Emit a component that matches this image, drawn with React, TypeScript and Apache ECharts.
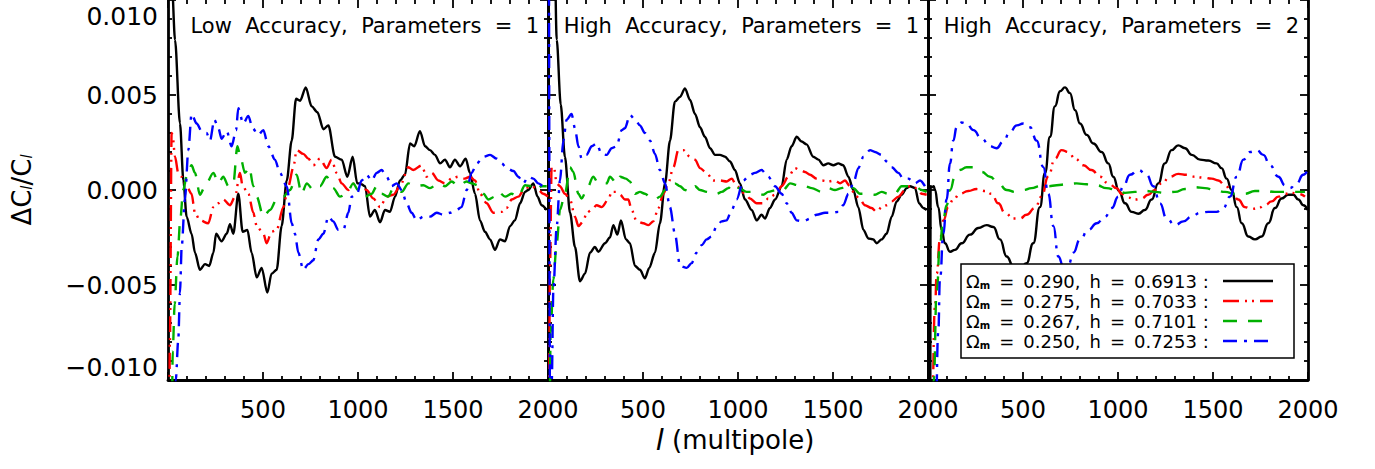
import React, { useEffect, useRef } from "react";
import * as echarts from "echarts";

// ---------- data (values in units of 1e-3) ----------
const UNIT = 1e-3;
const X_MIN = 0;
const X_MAX = 2000;
const X_STEP = 500;
const Y_MIN = -0.01;
const Y_MAX = 0.01;
const Y_STEP = 0.005;

const PANEL_TITLES = [
  "Low Accuracy, Parameters = 1",
  "High Accuracy, Parameters = 1",
  "High Accuracy, Parameters = 2",
];

const LEGEND_OM = ["0.290", "0.275", "0.267", "0.250"];
const LEGEND_H = ["0.6913", "0.7033", "0.7101", "0.7253"];

// Panel 1: Low accuracy, 1 parameter
const p1Black = [[2,40],[20,11],[37,7.9],[63,3.5],[81,0.5],[98,-1.4],[124,-2.3],[142,-3.3],[168,-4.2],[195,-3.9],[217,-4.0],[239,-3.3],[253,-2.3],[282,-2.7],[309,-2.3],[326,-1.8],[344,-2.3],[370,-0.2],[393,-2.2],[418,-2.1],[440,-3.3],[467,-4.6],[493,-4.1],[523,-5.4],[545,-4.4],[572,-4.2],[598,-1.9],[625,0.5],[651,2.6],[674,4.8],[695,4.7],[725,5.4],[756,4.4],[786,4.1],[818,3.2],[844,3.4],[879,1.75],[914,1.6],[944,0.7],[972,1.75],[996,0.35],[1010,0.35],[1037,0.2],[1063,-1.4],[1089,-1.05],[1116,-1.7],[1142,-1.05],[1168,-1.15],[1195,-0.35],[1221,0.5],[1247,0.8],[1274,2.45],[1296,2.3],[1326,3.1],[1353,2.3],[1379,2.1],[1405,1.85],[1432,1.4],[1458,1.6],[1484,1.2],[1510,1.6],[1537,1.25],[1567,1.65],[1589,0.9],[1616,-0.2],[1642,-1.6],[1668,-2.2],[1695,-2.6],[1721,-3.15],[1747,-2.6],[1774,-2.7],[1800,-1.9],[1826,-1.6],[1853,-0.7],[1879,-0.1],[1896,0],[1923,0.35],[1945,-0.35],[1966,-0.8],[1993,-1.05]];
const p1Red = [[2,-25],[10,-8],[19,3.0],[24,2.9],[37,1.75],[54,0.9],[72,0.7],[98,0.2],[124,-0.2],[142,-1.2],[168,-1.6],[212,-1.75],[239,-0.9],[265,-0.7],[291,-0.5],[326,-0.8],[353,-0.35],[379,0.9],[393,0.2],[423,-0.2],[449,-1.2],[467,-1.9],[502,-2.3],[519,-2.8],[545,-2.2],[572,-2.1],[607,-0.9],[633,0.2],[660,1.2],[677,2.1],[712,1.9],[739,1.65],[765,1.3],[800,1.65],[835,1.15],[861,1.6],[888,0.9],[914,0.35],[949,0],[984,0.35],[1010,0.35],[1045,0],[1081,-0.45],[1116,-0.9],[1151,-0.35],[1186,-0.25],[1221,0.2],[1265,1.2],[1291,1.05],[1335,1.3],[1361,0.7],[1388,0.9],[1423,0.5],[1458,0.35],[1493,0.6],[1528,0.7],[1563,0.6],[1589,0.7],[1616,0.5],[1642,-0.2],[1677,-0.7],[1712,-1.2],[1756,-1.15],[1782,-0.95],[1809,-0.5],[1844,-0.35],[1879,0.1],[1914,0.2],[1949,0],[1975,-0.2],[2000,-0.35]];
const p1Green = [[2,-25],[20,-12],[25,-8.5],[35,-6],[50,-3.5],[65,-1.5],[80,0],[100,0.8],[124,1.3],[142,0.9],[168,-0.25],[195,0.2],[239,0.9],[265,0.35],[291,0.7],[318,0.2],[344,0.35],[365,2.3],[379,1.85],[405,0.9],[428,1.2],[449,0.2],[467,-0.35],[502,-1.4],[537,-1.05],[572,-0.5],[607,-0.35],[642,0],[677,0.8],[703,-0.2],[730,0.35],[765,0],[800,0.2],[835,0.7],[870,0.1],[905,-0.35],[940,-0.2],[975,0.35],[1000,0],[1037,-0.35],[1072,-0.2],[1098,0.2],[1124,-0.2],[1159,-0.35],[1186,0.1],[1230,-0.1],[1265,0.35],[1300,0.2],[1344,0.25],[1379,0.1],[1423,0.35],[1458,0.2],[1493,0.45],[1528,0.2],[1572,0.45],[1598,0.35],[1633,0.25],[1660,-0.2],[1686,-0.5],[1721,-0.35],[1740,-0.1],[1774,-0.35],[1809,-0.2],[1844,-0.35],[1879,0.25],[1914,0.2],[1940,0],[1966,0.2],[1993,0.2]];
const p1Blue = [[2,-30],[30,-14],[41,-10],[54,-7.9],[63,-5.4],[72,-3],[89,-0.5],[107,2.1],[124,4.0],[151,3.5],[177,3.1],[203,3.0],[221,2.6],[244,3.7],[265,3.25],[282,2.7],[309,3.1],[335,2.3],[358,3.15],[370,4.3],[396,3.5],[423,3.9],[445,3.25],[475,2.9],[502,3.15],[528,2.3],[563,1.6],[589,0.9],[625,0.2],[651,-1.75],[668,-2.3],[686,-3.3],[712,-4.2],[739,-3.9],[765,-3.7],[791,-2.6],[818,-2.3],[844,-1.4],[870,-1.65],[896,-2.1],[923,-2.1],[949,-1.2],[967,-0.35],[993,-0.25],[1019,0.5],[1045,0.8],[1072,0.5],[1098,0.9],[1124,1.05],[1151,0.7],[1177,0.2],[1203,0.35],[1230,0],[1256,-0.7],[1282,-1.2],[1309,-1.6],[1344,-1.4],[1379,-1.4],[1414,-1.2],[1449,-1.3],[1484,-1.2],[1519,-1.05],[1545,-0.9],[1572,0],[1598,0.9],[1625,1.4],[1660,1.75],[1695,1.85],[1730,1.65],[1756,1.4],[1782,1.15],[1818,1.0],[1844,0.7],[1870,0.35],[1896,0.7],[1923,0.6],[1949,0.35],[1975,0.2],[1993,0.2]];

// Panel 2: High accuracy, 1 parameter
const p2Black = [[2,60],[25,20],[46,7.9],[67,4.5],[89,1.75],[116,-1.2],[142,-3],[168,-4.8],[195,-4.4],[221,-3.3],[247,-3],[265,-3.25],[300,-2.8],[326,-2.5],[344,-1.85],[365,-2.35],[384,-1.6],[410,-2.6],[431,-2.8],[458,-4.0],[484,-4.2],[510,-4.65],[533,-4.1],[563,-3.3],[589,-1.75],[616,0.35],[642,2.6],[668,4.65],[695,4.9],[721,5.35],[747,4.75],[774,4.0],[800,3.3],[826,2.8],[853,2.2],[879,1.85],[905,1.85],[932,1.75],[958,1.5],[984,1.05],[1010,0.35],[1037,-0.5],[1072,-1.05],[1098,-1.6],[1124,-1.3],[1142,-1.5],[1168,-0.95],[1195,-0.5],[1230,0.2],[1256,1.6],[1282,2.3],[1309,2.8],[1335,2.55],[1361,2.4],[1396,1.75],[1423,1.6],[1449,1.3],[1475,1.4],[1502,1.3],[1528,1.4],[1554,1.3],[1581,0.7],[1607,0],[1633,-0.9],[1660,-2.1],[1686,-2.55],[1712,-2.6],[1730,-2.8],[1756,-2.6],[1782,-2.3],[1809,-1.4],[1835,-0.6],[1861,-0.25],[1888,0.1],[1905,0.2],[1932,0.1],[1953,-0.7],[1975,-0.95],[1993,-1.05]];
const p2Red = [[2,-25],[10,-4.4],[19,1.2],[31,1.2],[46,0.35],[63,0.2],[89,-0.2],[116,-0.5],[142,-1.4],[160,-1.9],[186,-1.65],[203,-1.2],[230,-1.05],[256,-0.8],[282,-0.9],[318,-0.5],[335,-0.1],[358,-0.1],[379,-0.25],[405,-0.5],[423,-0.5],[440,-1.05],[467,-1.65],[502,-1.75],[528,-1.85],[554,-1.65],[581,-0.95],[607,-0.2],[633,0.35],[660,1.2],[686,2.1],[712,2.1],[747,1.75],[774,1.6],[800,1.15],[835,0.9],[870,0.5],[905,0.5],[940,0.45],[967,0.6],[993,0.2],[1037,-0.2],[1063,-0.45],[1098,-0.7],[1133,-0.7],[1159,-0.45],[1195,-0.25],[1230,0.2],[1265,0.7],[1300,1.15],[1326,1.05],[1353,0.95],[1379,0.8],[1414,0.6],[1440,0.5],[1475,0.45],[1510,0.5],[1537,0.35],[1563,0.5],[1589,0.2],[1616,-0.25],[1642,-0.5],[1668,-0.8],[1703,-0.95],[1730,-1.15],[1756,-0.9],[1782,-0.8],[1809,-0.6],[1844,-0.35],[1879,0],[1905,0.2],[1940,0.1],[1966,-0.2],[1993,-0.25]];
const p2Green = [[2,-25],[14,-7.5],[28,-4.7],[46,-2.8],[63,-1.05],[89,-0.2],[116,1.2],[133,0.95],[160,-0.2],[177,-0.45],[203,0],[238,0.7],[265,0.35],[309,0.35],[326,0.7],[361,0.35],[379,0.7],[410,0.6],[431,0.45],[458,-0.2],[484,-0.1],[510,-0.2],[537,-0.35],[563,-0.5],[589,-0.35],[616,0],[642,0.35],[668,0.35],[695,0.2],[721,0],[747,-0.1],[774,0.2],[800,0],[835,-0.1],[861,-0.2],[888,-0.2],[914,-0.1],[949,0.1],[975,0.35],[1005,0.1],[1045,-0.1],[1081,-0.1],[1133,-0.25],[1159,-0.1],[1203,0],[1238,0],[1274,0.35],[1317,0.25],[1353,0.2],[1388,0.1],[1440,-0.1],[1475,0.1],[1510,0],[1545,0.1],[1581,0.35],[1607,0.1],[1642,-0.2],[1686,-0.2],[1721,-0.25],[1756,-0.1],[1791,-0.2],[1826,-0.2],[1861,0.2],[1896,0.2],[1932,0.2],[1966,0],[1993,-0.1]];
const p2Blue = [[2,30],[12,-15],[20,-10],[28,-5.3],[46,-1.9],[63,0.5],[81,2.6],[98,3.7],[124,4.0],[142,3.25],[160,2.3],[177,1.65],[203,1.85],[230,2.3],[256,2.45],[282,1.9],[309,1.85],[335,2.2],[361,2.3],[388,3.15],[405,3.25],[431,3.95],[458,3.7],[484,3.4],[510,3.0],[537,2.6],[563,1.9],[589,1.05],[616,0.35],[642,-0.9],[668,-2.3],[695,-4.0],[730,-4.1],[756,-3.85],[782,-3.3],[809,-2.9],[835,-2.6],[861,-2.45],[888,-1.9],[914,-1.65],[940,-1.6],[967,-1.05],[993,-0.5],[1028,0.5],[1063,0.8],[1089,0.9],[1124,1.05],[1159,0.7],[1195,0.2],[1230,-0.2],[1256,-0.7],[1282,-1.2],[1309,-1.6],[1344,-1.65],[1379,-1.5],[1414,-1.3],[1458,-1.2],[1493,-1.2],[1528,-1.15],[1554,-0.8],[1581,-0.2],[1607,0.35],[1633,1.15],[1660,1.75],[1695,2.1],[1721,2.0],[1756,1.85],[1782,1.5],[1809,1.2],[1844,0.9],[1870,0.6],[1896,0.6],[1932,0.35],[1958,0.5],[1984,0.2]];

// Panel 3: High accuracy, 2 parameters
const p3Black = [[2,0.1],[5,-15],[11,-15],[14,0.2],[22,0.15],[30,0.2],[37,0],[54,-0.9],[72,-2.1],[89,-2.8],[116,-3.25],[142,-3.15],[177,-2.8],[221,-2.35],[265,-2.0],[309,-1.85],[344,-1.95],[379,-2.6],[414,-3.5],[449,-4.0],[484,-4.15],[519,-3.85],[554,-2.8],[589,-0.9],[616,0.9],[642,2.8],[668,4.4],[695,5.2],[721,5.4],[747,5.1],[774,4.2],[800,3.5],[835,2.9],[870,2.45],[914,2.0],[949,1.4],[975,0.7],[1005,-0.05],[1037,-0.7],[1072,-1.15],[1107,-1.25],[1142,-1.05],[1177,-0.5],[1212,0.35],[1247,1.4],[1282,2.1],[1317,2.35],[1353,2.2],[1388,1.85],[1432,1.6],[1475,1.55],[1519,1.4],[1545,1.15],[1572,0.6],[1598,0],[1625,-0.9],[1651,-1.75],[1686,-2.45],[1721,-2.6],[1756,-2.45],[1791,-1.75],[1826,-0.95],[1861,-0.45],[1896,-0.25],[1923,-0.25],[1949,-0.5],[1975,-0.8],[1998,-1.05]];
const p3Red = [[2,-25],[20,-12],[37,-6.1],[46,-4.4],[63,-2.6],[81,-1.6],[107,-0.9],[133,-0.5],[168,-0.2],[212,-0.05],[256,0.05],[300,-0.05],[335,-0.2],[370,-0.7],[405,-1.2],[449,-1.5],[484,-1.5],[519,-1.3],[563,-0.95],[598,-0.35],[633,0.7],[668,1.65],[703,2.1],[739,2.0],[774,1.65],[818,1.3],[861,1.05],[905,0.7],[949,0.35],[993,0.1],[1019,-0.2],[1054,-0.4],[1089,-0.5],[1124,-0.45],[1159,-0.25],[1195,0],[1230,0.35],[1274,0.7],[1317,0.85],[1361,0.8],[1405,0.7],[1449,0.65],[1493,0.6],[1528,0.5],[1563,0.25],[1598,-0.1],[1633,-0.5],[1668,-0.9],[1703,-1.0],[1739,-0.95],[1774,-0.8],[1809,-0.6],[1844,-0.35],[1879,-0.2],[1914,-0.15],[1949,-0.2],[1984,-0.35]];
const p3Green = [[2,-25],[30,-10],[46,-5.3],[63,-2.8],[81,-1.5],[98,-0.8],[116,0],[142,0.7],[168,1.05],[203,1.2],[239,1.2],[282,0.95],[326,0.7],[370,0.35],[414,0],[458,-0.1],[502,0],[545,0.1],[589,0.2],[633,0.2],[677,0.25],[730,0.3],[782,0.35],[835,0.3],[888,0.25],[940,0.1],[993,0],[1037,-0.15],[1089,-0.1],[1142,-0.05],[1195,-0.1],[1247,-0.15],[1300,-0.1],[1353,0.05],[1405,0.15],[1458,0.1],[1510,0],[1563,-0.1],[1616,-0.2],[1668,-0.2],[1721,-0.05],[1774,-0.05],[1826,-0.1],[1879,-0.1],[1932,-0.1],[1984,-0.1]];
const p3Blue = [[2,-30],[40,-12],[54,-7.5],[63,-4.7],[81,-2.3],[98,-0.5],[116,1.4],[133,2.6],[151,3.3],[177,3.55],[203,3.5],[239,3.15],[282,2.7],[326,2.3],[361,2.2],[396,2.55],[431,3.05],[467,3.4],[502,3.5],[537,3.3],[572,2.6],[607,1.2],[633,-0.2],[660,-1.9],[686,-3.5],[712,-4.0],[739,-3.95],[765,-3.3],[800,-2.6],[844,-2.1],[888,-1.75],[932,-1.4],[967,-0.95],[1002,-0.35],[1028,0.2],[1063,0.8],[1107,1.05],[1151,0.8],[1186,0.2],[1221,-0.7],[1256,-1.5],[1300,-1.85],[1344,-1.65],[1388,-1.4],[1432,-1.2],[1475,-1.15],[1519,-1.15],[1554,-0.95],[1589,-0.35],[1625,0.7],[1660,1.6],[1695,2.0],[1730,2.1],[1765,1.85],[1800,1.3],[1844,0.7],[1879,0.25],[1905,0.1],[1940,0.35],[1975,0.8],[1998,1.05]];

const PANELS = [
  [p1Black, p1Red, p1Green, p1Blue],
  [p2Black, p2Red, p2Green, p2Blue],
  [p3Black, p3Red, p3Green, p3Blue],
];

// ---------- styles ----------
const COLORS = ["#000000", "#ff0000", "#00b000", "#0000ff"];
const DASHES: any[] = ["solid", [16, 6, 2, 5, 2, 6], [14, 11], [14, 7, 3, 7]];
const FONT = "DejaVu Sans";
const GRID_LEFT = [168, 548, 928];
const GRID_W = 380;
const GRID_TOP = 0;
const GRID_H = 380;

const fmtY = (v: number) => {
  const s = Math.abs(v).toFixed(3);
  return v < -1e-9 ? "\u2212" + s : s;
};

const axisLineStyle = { color: "#000", width: 2.8 };
const tickStyle = { color: "#000", width: 1.8 };

function buildOption() {
  const grid = GRID_LEFT.map((left) => ({
    left,
    top: GRID_TOP,
    width: GRID_W,
    height: GRID_H,
    containLabel: false,
  }));

  const xAxis: any[] = [];
  const yAxis: any[] = [];
  for (const pos of ["bottom", "top"]) {
    for (let i = 0; i < 3; i++) {
      xAxis.push({
        gridIndex: i,
        type: "value",
        position: pos,
        min: X_MIN,
        max: X_MAX,
        interval: X_STEP,
        axisLine: { show: pos === "bottom", onZero: false, lineStyle: axisLineStyle },
        axisTick: { show: true, inside: true, length: 8, lineStyle: tickStyle },
        minorTick: { show: true, splitNumber: 5, length: 4, lineStyle: tickStyle },
        splitLine: { show: false },
        axisLabel: {
          show: pos === "bottom",
          formatter: (v: number) => (v === 0 ? "" : String(v)),
          color: "#000",
          fontFamily: FONT,
          fontSize: 24,
          margin: 18,
        },
      });
    }
  }
  for (const pos of ["left", "right"]) {
    for (let i = 0; i < 3; i++) {
      yAxis.push({
        gridIndex: i,
        type: "value",
        position: pos,
        min: Y_MIN,
        max: Y_MAX,
        interval: Y_STEP,
        axisLine: { show: true, onZero: false, lineStyle: axisLineStyle },
        axisTick: { show: true, inside: true, length: 8, lineStyle: tickStyle },
        minorTick: { show: true, splitNumber: 5, length: 4, lineStyle: tickStyle },
        splitLine: { show: false },
        axisLabel: {
          show: pos === "left" && i === 0,
          formatter: fmtY,
          color: "#000",
          fontFamily: FONT,
          fontSize: 25,
          margin: 10,
          padding: [4, 0, 0, 0],
          verticalAlignMinLabel: "bottom",
          verticalAlignMaxLabel: "top",
        },
      });
    }
  }

  const series: any[] = [];
  PANELS.forEach((curves, i) => {
    curves.forEach((pts, k) => {
      series.push({
        type: "line",
        xAxisIndex: i,
        yAxisIndex: i,
        data: pts.map(([l, v]) => [l, v * UNIT]),
        symbol: "none",
        showSymbol: false,
        smooth: i === 2 ? 0.5 : 0.3,
        smoothMonotone: "x",
        clip: true,
        silent: true,
        lineStyle: { color: COLORS[k], width: 2.4, type: DASHES[k] },
        z: 2 + k,
      });
    });
  });

  const graphic: any[] = [];
  // panel titles (right aligned inside each panel)
  PANEL_TITLES.forEach((t, i) => {
    graphic.push({
      type: "text",
      x: GRID_LEFT[i] + GRID_W - 9,
      y: 26,
      z: 50,
      style: {
        text: t.replace(/ /g, " \u00a0"),
        fill: "#000",
        font: `21px "${FONT}"`,
        align: "right",
        verticalAlign: "middle",
      },
    });
  });
  // y axis name
  graphic.push({
    type: "text",
    x: 22,
    y: 190,
    rotation: Math.PI / 2,
    z: 50,
    style: {
      text: "\u0394C{s|l}/C{s|l}",
      fill: "#000",
      font: `26px "${FONT}"`,
      align: "center",
      verticalAlign: "middle",
      rich: {
        s: { font: `italic 15px "${FONT}"`, fill: "#000", padding: [10, 0, 0, 0] },
      },
    },
  });
  // x axis name
  graphic.push({
    type: "text",
    x: 735,
    y: 440,
    z: 50,
    style: {
      text: "{i|l} (multipole)",
      fill: "#000",
      font: `26px "${FONT}"`,
      align: "center",
      verticalAlign: "middle",
      rich: {
        i: { font: `italic 29px "${FONT}"`, fill: "#000" },
      },
    },
  });
  // legend
  const LX = 961, LY = 264, LW = 333, LH = 94;
  graphic.push({
    type: "rect",
    z: 60,
    shape: { x: LX, y: LY, width: LW, height: LH },
    style: { fill: "#fff", stroke: "#000", lineWidth: 1.5 },
  });
  LEGEND_OM.forEach((om, k) => {
    const cy = LY + 17 + k * 20;
    graphic.push({
      type: "text",
      x: LX + 5,
      y: cy,
      z: 61,
      style: {
        text: `\u03a9{m|m}\u2002=\u2002${om},\u2002h\u2002=\u2002${LEGEND_H[k]} :`,
        fill: "#000",
        font: `18px "${FONT}"`,
        align: "left",
        verticalAlign: "middle",
        rich: {
          m: { font: `bold 10px "${FONT}"`, fill: "#000", padding: [8, 0, 0, 0] },
        },
      },
    });
    graphic.push({
      type: "line",
      z: 61,
      shape: { x1: 1223, y1: cy, x2: 1273, y2: cy },
      style: {
        stroke: COLORS[k],
        lineWidth: 2.4,
        lineDash: DASHES[k] === "solid" ? null : DASHES[k],
      },
    });
  });

  return {
    animation: false,
    backgroundColor: "#ffffff",
    grid,
    xAxis,
    yAxis,
    series,
    graphic,
  };
}

export default function App() {
  const ref = useRef<HTMLDivElement>(null);
  useEffect(() => {
    if (!ref.current) return;
    const chart = echarts.init(ref.current, null, { renderer: "svg" });
    chart.setOption(buildOption());
    return () => chart.dispose();
  }, []);
  return (
    <div
      ref={ref}
      style={{ position: "absolute", left: 0, top: 0, width: 1375, height: 469, background: "#fff" }}
    />
  );
}
